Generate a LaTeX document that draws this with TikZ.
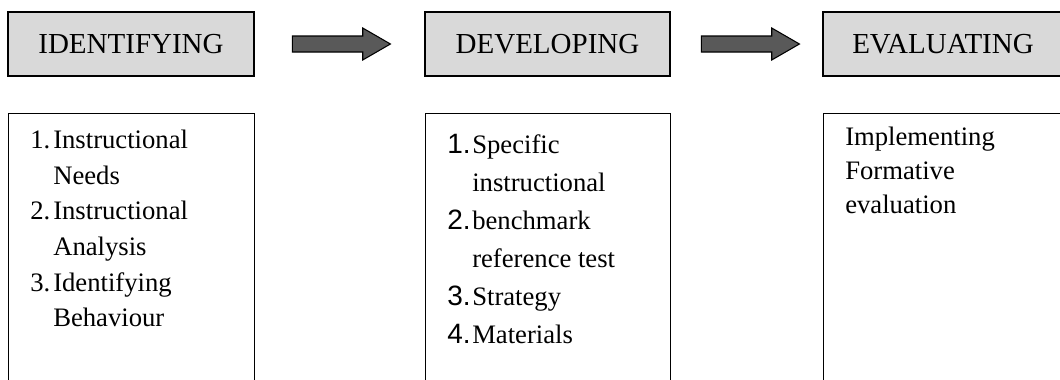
\documentclass[tikz,border=0pt]{standalone}
\usepackage{fontspec}
\setmainfont{Liberation Serif}
\newfontfamily\numfont{Liberation Sans}
\usetikzlibrary{positioning,shapes.arrows}
\newcommand{\nm}[1]{{\numfont\fontsize{21}{28.5}\selectfont #1}}

\begin{document}
\begin{tikzpicture}[x=0.75pt,y=-0.75pt,
    head/.style = {draw, line width=1.1pt, fill=black!15, inner sep=0pt,
      minimum width=184.5pt, minimum height=48pt,
      font=\fontsize{21.75}{26}\selectfont},
    box/.style = {draw, line width=1.1pt, anchor=north west, inner sep=0pt,
      minimum height=220pt},
    list/.style = {inner sep=0pt, align=left},
    block/.style = {single arrow, draw, line width=0.8pt, fill=black!65,
      inner xsep=0pt, inner ysep=5.6pt, minimum height=73.5pt,
      single arrow head extend=6pt, single arrow tip angle=60}]
      \useasboundingbox (0,0) rectangle (1060,379);
      \clip (0,0) rectangle (1060,379);

      \node[head] (1) at (131,44) {IDENTIFYING};
      \node[head, minimum width=183.75pt] (2) at (547.5,44) {DEVELOPING};
      \node[head, minimum width=180pt] (3) at (943,44) {EVALUATING};

      \path (1.east) -- (2.west) node[midway, block, xshift=-3.75pt] (a1) {};
      \path (2.east) -- (3.west) node[midway, block, xshift=-2.25pt] (a2) {};

      \node[box, minimum width=184.5pt] (4) at (8,113) {};
      \node[box, minimum width=183.75pt] (5) at (425,113) {};
      \node[box, minimum width=180pt] (6) at (823,113) {};

      \node[list, below right=7.5pt and 16.5pt of 4.north west,
        font=\fontsize{20}{26.8}\selectfont] (4t)
        {\begin{tabular}{@{}p{17.25pt}@{}l@{}}
          1. & Instructional\\
             & Needs\\
          2. & Instructional\\
             & Analysis\\
          3. & Identifying\\
             & Behaviour
        \end{tabular}};
      \node[list, below right=10pt and 16.5pt of 5.north west,
        font=\fontsize{20}{28.5}\selectfont] (5t)
        {\begin{tabular}{@{}p{18.75pt}@{}l@{}}
          \nm{1.} & Specific\\
                  & instructional\\
          \nm{2.} & benchmark\\
                  & reference test\\
          \nm{3.} & Strategy\\
          \nm{4.} & Materials
        \end{tabular}};
      \node[list, below right=6pt and 16.5pt of 6.north west,
        font=\fontsize{20}{25.5}\selectfont] (6t)
        {\begin{tabular}{@{}l@{}}
          Implementing\\
          Formative\\
          evaluation
        \end{tabular}};
    \end{tikzpicture}
\end{document}
